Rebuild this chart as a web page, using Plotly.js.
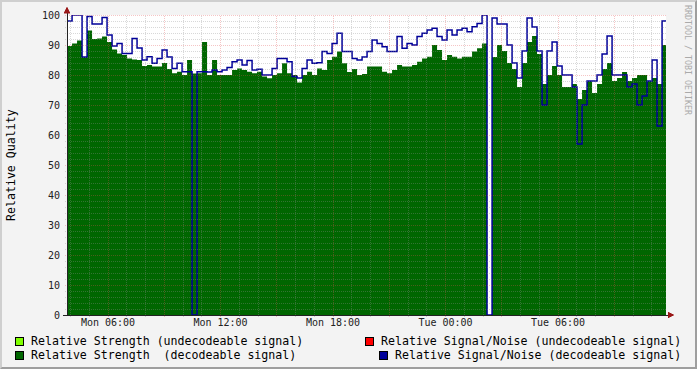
<!DOCTYPE html>
<html><head><meta charset="utf-8">
<script src="https://cdn.plot.ly/plotly-3.0.1.min.js"></script>
<style>
body{margin:0;background:#F3F3F3}
#wrap{position:relative;width:697px;height:369px}
#frame{position:absolute;left:0;top:0;width:697px;height:369px;box-sizing:border-box;border-top:2px solid #CFCFCF;border-left:2px solid #CFCFCF;border-bottom:2px solid #9E9E9E;border-right:2px solid #9E9E9E;pointer-events:none}
.shapelayer path{shape-rendering:crispEdges}
</style>
</head><body>
<div id="wrap"><div id="chart" style="width:697px;height:369px"></div><div id="frame"></div></div>
<script>
// ---- data ----
const startTime = Date.UTC(2024, 0, 1, 3, 49); // Mon 03:49
const stepMinutes = 16;
const strengthDecodeable = [
 89.7,90.5,91.5,86,94.8,92,92.2,92.8,91,88.5,
 87.2,86.7,85.5,85.2,85,83,83.3,82.8,82.8,84,
 82,80.6,81.1,80,85,80.5,80.6,91,80,85,
 80,80,80,81.7,82.2,81.7,81.1,80.6,81.1,79.5,
 78.9,80,80.6,83.9,80.6,80,77.5,80,81.1,80,
 82.2,81.7,85,86.1,87.8,83.9,81,82,80,80.3,
 82.8,82.8,82.8,81.1,80.6,81.7,83.3,82.8,82.8,83.3,
 84.4,85.5,86.1,90,88.3,85,86.7,86.1,85.5,86.1,
 86.1,87.8,88.9,90.5,0,86,90,88,84,82,
 76,84,91,93,87,77,80,83,80,76,
 76,77,72,75,78,74,77,82,84,78,
 79,81,78,79,80,80,78,79,77,90
];
const snDecodeable = [
 98,100,100,86,99.5,97,97,99.2,93.3,89.7,
 90.5,87.2,87.2,92.2,89,85,86.1,83.9,85.5,88.3,
 86,82.2,83.9,81.1,81.1,0,81.1,81.1,81,81.7,
 81.1,81.7,82.5,84.4,85,83.3,84.8,81.7,81.9,80,
 80,82.2,85.5,85.5,84.4,79.5,79,82.2,85,83.9,
 84.1,87.8,87.2,90.5,93.9,87.8,87.8,85.5,85,86,
 87.8,91.7,90.5,89.4,87.8,87.8,92.8,88.9,90.5,90,
 92.8,93.9,95,95.6,92.8,91.7,95,93.3,95,95.6,
 94.4,96.1,97.2,100,0,99,97,97,90,84,
 79,88,99,96,88,70,88,91,83,80,
 80,76,57,70,78,78,80,87,93,80,
 80,80,76,77,70,73,78,85,63,98
];
const yTicks = [0,10,20,30,40,50,60,70,80,90,100];
const legendLabels = [
 'Relative Strength (undecodeable signal)',
 'Relative Signal/Noise (undecodeable signal)',
 'Relative Strength \u00a0(decodeable signal)',
 'Relative Signal/Noise (decodeable signal)'
];
const legendColors = ['#80FF00','#FF0000','#006600','#000099'];

// ---- helpers ----
function fmt(ms){ return new Date(ms).toISOString().replace('T',' ').slice(0,19); }
const times = strengthDecodeable.map((_, i) => fmt(startTime + i*stepMinutes*60000));
const endT = fmt(startTime + strengthDecodeable.length*stepMinutes*60000);
const xRange = ['2024-01-01 03:48:48', '2024-01-02 11:45:36'];
const L = 67, R = 666, T = 15, B = 315;
const px = x => (x - L) / (R - L);
const py = y => (B - y) / (B - T);

const traces = [
 {x: times.concat([endT]), y: strengthDecodeable.concat([strengthDecodeable[strengthDecodeable.length-1]]),
  type:'scatter', mode:'lines', fill:'tozeroy', fillcolor:'#006600',
  line:{width:0, shape:'hv', color:'#006600'}, hoverinfo:'skip'},
 {x: times.concat([endT]), y: snDecodeable.concat([snDecodeable[snDecodeable.length-1]]),
  type:'scatter', mode:'lines', line:{width:1.5, shape:'hv', color:'#000099'}, hoverinfo:'skip'}
];

const shapes = [];
const MINOR = 'rgba(143,143,143,0.35)', MAJOR = 'rgba(224,79,79,0.33)';
const t0 = Date.parse(xRange[0].replace(' ','T')+'Z'), t1 = Date.parse(xRange[1].replace(' ','T')+'Z');
for (let t = Math.ceil(t0/3600000)*3600000; t <= t1; t += 3600000) {
  const h = new Date(t).getUTCHours();
  shapes.push({type:'line', xref:'x', yref:'paper', x0:fmt(t), x1:fmt(t), y0:-2/300, y1:1,
    line:{color: h%3===0 ? MAJOR : MINOR, width:1, dash:'1px,1px'}, layer:'above'});
}
for (let v = 2; v <= 100; v += 2) {
  shapes.push({type:'line', xref:'paper', yref:'y', x0:-2/599, x1:1, y0:v, y1:v,
    line:{color: v%10===0 ? MAJOR : MINOR, width:1, dash:'1px,1px'}, layer:'above'});
}
shapes.push({type:'line', xref:'paper', yref:'paper', x0:px(63), x1:px(669), y0:0, y1:0, line:{color:'#222', width:1}, layer:'above'});
shapes.push({type:'line', xref:'paper', yref:'paper', x0:0, x1:0, y0:0, y1:py(12), line:{color:'#222', width:1}, layer:'above'});
shapes.push({type:'path', xref:'paper', yref:'paper', layer:'above',
  path:`M ${px(64)} ${py(13)} L ${px(67)} ${py(7)} L ${px(70)} ${py(13)} Z`, fillcolor:'#9A1818', line:{color:'#9A1818', width:0.5}});
shapes.push({type:'path', xref:'paper', yref:'paper', layer:'above',
  path:`M ${px(668)} ${py(312)} L ${px(674)} ${py(315)} L ${px(668)} ${py(318)} Z`, fillcolor:'#9A1818', line:{color:'#9A1818', width:0.5}});

const legPos = [
 {bx:15, tx:30, y:341}, {bx:365, tx:380, y:341},
 {bx:15, tx:30, y:355}, {bx:379, tx:394, y:355}
];
const annotations = [];
const FONT = 'DejaVu Sans Mono, monospace';
legPos.forEach((p, i) => {
  shapes.push({type:'rect', xref:'paper', yref:'paper', x0:px(p.bx), x1:px(p.bx+8), y0:py(p.y-4), y1:py(p.y+4),
    fillcolor:legendColors[i], line:{color:'#000', width:1}, layer:'above'});
  annotations.push({xref:'paper', yref:'paper', x:px(p.tx), y:py(p.y), xanchor:'left', yanchor:'middle',
    text:legendLabels[i], showarrow:false, borderpad:0, font:{family:FONT, size:11.6, color:'#000'}});
});
annotations.push({xref:'paper', yref:'paper', x:px(11), y:py(165), xanchor:'center', yanchor:'middle',
  text:'Relative Quality', textangle:-90, showarrow:false, borderpad:0, font:{family:FONT, size:11.6, color:'#000'}});
annotations.push({xref:'paper', yref:'paper', x:px(688), y:py(60), xanchor:'center', yanchor:'middle',
  text:'RRDTOOL / TOBI OETIKER', textangle:90, showarrow:false, borderpad:0, font:{family:FONT, size:8.3, color:'#AAAAAA'}});

const layout = {
  width:697, height:369,
  margin:{l:L, r:697-R, t:T, b:369-B, pad:0},
  paper_bgcolor:'#F3F3F3', plot_bgcolor:'#FFFFFF',
  showlegend:false,
  xaxis:{type:'date', range:xRange, showgrid:false, zeroline:false, showline:false,
    tick0:'2024-01-01 00:00', dtick:6*3600000, tickformat:'%a %H:%M', ticks:'',
    tickfont:{family:FONT, size:10, color:'#222'}, fixedrange:true},
  yaxis:{range:[0,100], tickvals:yTicks, showgrid:false, zeroline:false, showline:false, ticks:'',
    ticklabelstandoff:6, tickfont:{family:FONT, size:10, color:'#222'}, fixedrange:true},
  shapes, annotations
};
Plotly.newPlot('chart', traces, layout, {staticPlot:true, displayModeBar:false});
</script>
</body></html>
